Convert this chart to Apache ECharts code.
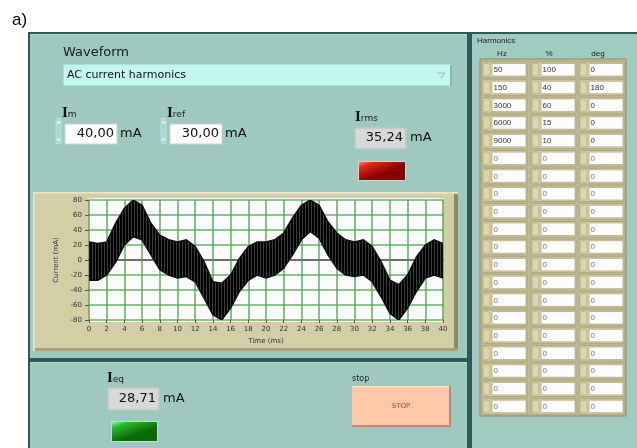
<!DOCTYPE html>
<html>
<head>
<meta charset="utf-8">
<script src="https://cdn.jsdelivr.net/npm/echarts@6/dist/echarts.min.js"></script>
<style>
html,body{margin:0;padding:0;background:#fff;}
#chart{width:637px;height:448px;}
</style>
</head>
<body>
<div id="chart"></div>
<script>
// ---- Data ----
var timeMs = [0,1,2,3,4,5,6,7,8,9,10,11,12,13,14,15,16,17,18,19,20,21,22,23,24,25,26,27,28,29,30,31,32,33,34,35,36,37,38,39,40];
var upperEnv = [24,22,24,49,69,80,73,49,33,27,24,27,18,-2,-29,-31,-20,2,18,24,24,27,36,56,73,80,73,51,36,27,24,27,18,-2,-27,-33,-20,4,20,27,22];
var lowerEnv = [-27,-27,-20,-3,20,31,27,7,-13,-20,-24,-22,-29,-51,-73,-80,-64,-42,-27,-20,-24,-20,-11,7,27,38,29,7,-11,-20,-22,-20,-29,-49,-71,-80,-64,-42,-24,-20,-24];
var xTickLabels = ['0','2','4','6','8','10','12','14','16','18','20','22','24','26','28','30','32','34','36','38','40'];
var yTickLabels = ['-80','-60','-40','-20','0','20','40','60','80'];
var hzValues  = [50,150,3000,6000,9000,0,0,0,0,0,0,0,0,0,0,0,0,0,0,0];
var pctValues = [100,40,60,15,10,0,0,0,0,0,0,0,0,0,0,0,0,0,0,0];
var degValues = [0,180,0,0,0,0,0,0,0,0,0,0,0,0,0,0,0,0,0,0];
var imValue = '40,00', irefValue = '30,00', irmsValue = '35,24', ieqValue = '28,71';
var waveformName = 'AC current harmonics';

// ---- styling helpers ----
var PANEL = '#9fc9be', DARK = '#2d5a58', TAN = '#d3cea5';
var pat = document.createElement('canvas');
pat.width = 3; pat.height = 4;
var pc = pat.getContext('2d');
pc.fillStyle = '#000000'; pc.fillRect(0,0,3,4);
pc.fillStyle = '#3c3c3c'; pc.fillRect(2,0,1,4);

var g = [];
function rect(x,y,w,h,fill,stroke,lw,r){
  var e = {type:'rect', shape:{x:x,y:y,width:w,height:h,r:r||0}, style:{fill:fill}, silent:true};
  if(stroke){ e.style.stroke = stroke; e.style.lineWidth = lw||1; }
  g.push(e); return e;
}
function text(x,y,t,size,color,opts){
  var e = {type:'text', x:x, y:y, silent:true, style:{text:t, fontSize:size, fill:color||'#222', fontFamily:'DejaVu Sans', textVerticalAlign:'middle'}};
  if(opts){ for(var k in opts){ e.style[k]=opts[k]; } }
  g.push(e); return e;
}
function tri(cx,cy,up,color){
  var s = up ? [[cx-2,cy+1.5],[cx+2,cy+1.5],[cx,cy-1.5]] : [[cx-2,cy-1.5],[cx+2,cy-1.5],[cx,cy+1.5]];
  g.push({type:'polygon', shape:{points:s}, style:{fill:color}, silent:true});
}

// label "a)"
text(12,20,'a)',17,'#000',{fontFamily:'Liberation Sans'});

// panels
rect(29,33,440,415,PANEL);
rect(471,33,166,415,'#a0cbc1');
rect(28,32,609,2,DARK);
rect(28,32,2,416,DARK);
rect(467,32,5,416,DARK);
rect(29,358,440,4,DARK);
rect(30,34,437,1,'#b8dcd2');
rect(30,362,437,1,'#b8dcd2');

// Waveform selector
text(63,53,'Waveform',13,'#1a1a1a');
rect(63,64,389,22,'#c3f7f0','#93cfc6',1);
rect(450,65,2,21,'#7fb8b0');
text(67,75,waveformName,11,'#111');
g.push({type:'polyline', shape:{points:[[437,73],[445,73],[441,78]]}, style:{stroke:'#8fbdb6', fill:null, lineWidth:1}, silent:true});

// numeric controls
function subLabel(x,y,sub){
  g.push({type:'text', x:x, y:y, silent:true, style:{text:'{a|I}{b|'+sub+'}', rich:{a:{fontFamily:'Liberation Serif', fontSize:15, fontWeight:'bold', fill:'#111'}, b:{fontFamily:'DejaVu Sans', fontSize:9, fill:'#222', padding:[4,0,0,0]}}, textVerticalAlign:'middle'}});
}
function control(x,val,sub){
  subLabel(x+7,113,sub);
  rect(x+1,118,5,26,'#a9d6d0','#c4ebe6',0.8,2);
  tri(x+3.5,122,true,'#e6fffc'); tri(x+3.5,140,false,'#e6fffc');
  rect(x+10,124,52,20,'#fdfdfd','#c5d6d2',1);
  text(x+59,134,val,13,'#111',{textAlign:'right'});
  text(x+65,134,'mA',13,'#111');
}
control(55,imValue,'m');
control(160,irefValue,'ref');
subLabel(355,117,'rms');
rect(355,128,51,21,'#d8d8d8','#b9c9c4',1.5);
text(403,138,irmsValue,13,'#111',{textAlign:'right'});
text(410,138,'mA',13,'#111');
rect(358,161,48,20,'#c7d9d3');
g.push({type:'rect', shape:{x:359,y:162,width:46,height:18}, silent:true, style:{fill:{type:'linear',x:0,y:0,x2:0.15,y2:1,colorStops:[{offset:0,color:'#ff8070'},{offset:0.3,color:'#e02a1a'},{offset:1,color:'#8a0000'}]}}});

// chart frame
rect(33,192,425,159,TAN);
rect(33,192,425,1.5,'#ebe7c7');
rect(33,192,1.5,159,'#ebe7c7');
rect(454,194,4,157,'#8e8a66');
rect(35,348,423,3,'#a7a27c');
rect(89,198,354,124,'#fbfbfb');

// bottom panel
subLabel(107,378,'eq');
rect(108,388,51,22,'#d8d8d8','#b9c9c4',1.5);
text(156,399,ieqValue,13,'#111',{textAlign:'right'});
text(163,399,'mA',13,'#111');
rect(111,421,47,21,'#c7d9d3');
g.push({type:'rect', shape:{x:112,y:422,width:45,height:19}, silent:true, style:{fill:{type:'linear',x:0,y:0,x2:0.15,y2:1,colorStops:[{offset:0,color:'#9af09a'},{offset:0.3,color:'#2bbb2b'},{offset:1,color:'#0a6a0a'}]}}});
text(352,379,'stop',8,'#222');
rect(352,386,99,41,'#b88b78');
rect(352,386,97,39,'#ffc8a8');
rect(352,386,97,1.2,'#ffe2d0');
text(401,406,'STOP',7,'#ff3030',{textAlign:'center'});

// harmonics table
text(477,41,'Harmonics',8,'#222',{fontFamily:'Liberation Sans'});
text(502,54,'Hz',8,'#222',{textAlign:'center',fontFamily:'Liberation Sans'});
text(549,54,'%',8,'#222',{textAlign:'center',fontFamily:'Liberation Sans'});
text(598,54,'deg',8,'#222',{textAlign:'center',fontFamily:'Liberation Sans'});
rect(480,59,146,357,'#c0ba92','#8f8a68',1);
var colX = [482,531,579];
var cols = [hzValues,pctValues,degValues];
for(var r=0;r<hzValues.length;r++){
  var ry = 62 + r*17.72;
  for(var c=0;c<3;c++){
    var cx = colX[c];
    rect(cx,ry,45,15.5,'#d7d1a8','#a49e78',0.8);
    rect(cx+1,ry+1.5,7,12.5,'#dcd6ae','#a8a27c',0.6,2);
    rect(cx+10,ry+1.5,34,12.5,'#fcfcfc','#b3ad86',0.8);
    text(cx+11.5,ry+8,String(cols[c][r]),8,r<5?'#333':'#777',{fontFamily:'Liberation Sans'});
  }
}

var bandData = timeMs.map(function(t,i){ return [t, lowerEnv[i], upperEnv[i]]; });

var chart = echarts.init(document.getElementById('chart'), null, {renderer:'canvas', width:637, height:448});
var axisFont = {fontSize:7, color:'#333', fontFamily:'DejaVu Sans'};
chart.setOption({
  animation:false,
  backgroundColor:'#ffffff',
  graphic:{elements:g},
  grid:{left:89, right:194, top:200, bottom:128, show:false},
  xAxis:[{
    type:'value', min:0, max:40, interval:2, position:'bottom', z:10,
    axisLine:{show:false, onZero:false},
    axisTick:{show:true, length:3, lineStyle:{color:'#555'}},
    axisLabel:Object.assign({margin:6, formatter:function(v){ return xTickLabels[Math.round(v/2)]; }}, axisFont),
    splitLine:{show:true, lineStyle:{color:'#4fa44f', width:1.6, opacity:0.85}},
    name:'Time (ms)', nameLocation:'middle', nameGap:18, nameTextStyle:axisFont
  },{
    type:'value', min:0, max:40, position:'top', z:10,
    axisLine:{show:true, onZero:true, lineStyle:{color:'#707070', width:2}},
    axisTick:{show:false}, axisLabel:{show:false}, splitLine:{show:false}
  }],
  yAxis:{
    type:'value', min:-80, max:80, interval:20, z:10,
    axisLine:{show:false},
    axisTick:{show:true, length:4, lineStyle:{color:'#555'}},
    axisLabel:Object.assign({margin:7, formatter:function(v){ return yTickLabels[Math.round((v+80)/20)]; }}, axisFont),
    splitLine:{show:true, lineStyle:{color:'#4fa44f', width:1.6, opacity:0.85}},
    name:'Current (mA)', nameLocation:'middle', nameGap:19, nameTextStyle:axisFont
  },
  series:[{
    type:'custom', coordinateSystem:'cartesian2d', xAxisIndex:0, z:12, clip:true,
    data:bandData, encode:{x:0, y:[1,2]},
    renderItem:function(params, api){
      if(params.dataIndex !== 0) return null;
      var pts = [];
      for(var i=0;i<timeMs.length;i++) pts.push(api.coord([timeMs[i], upperEnv[i]]));
      for(var j=timeMs.length-1;j>=0;j--) pts.push(api.coord([timeMs[j], lowerEnv[j]]));
      return {type:'polygon', shape:{points:pts}, style:{fill:{image:pat, repeat:'repeat'}, stroke:'#111', lineWidth:1.5}};
    }
  }]
});
</script>
</body>
</html>
